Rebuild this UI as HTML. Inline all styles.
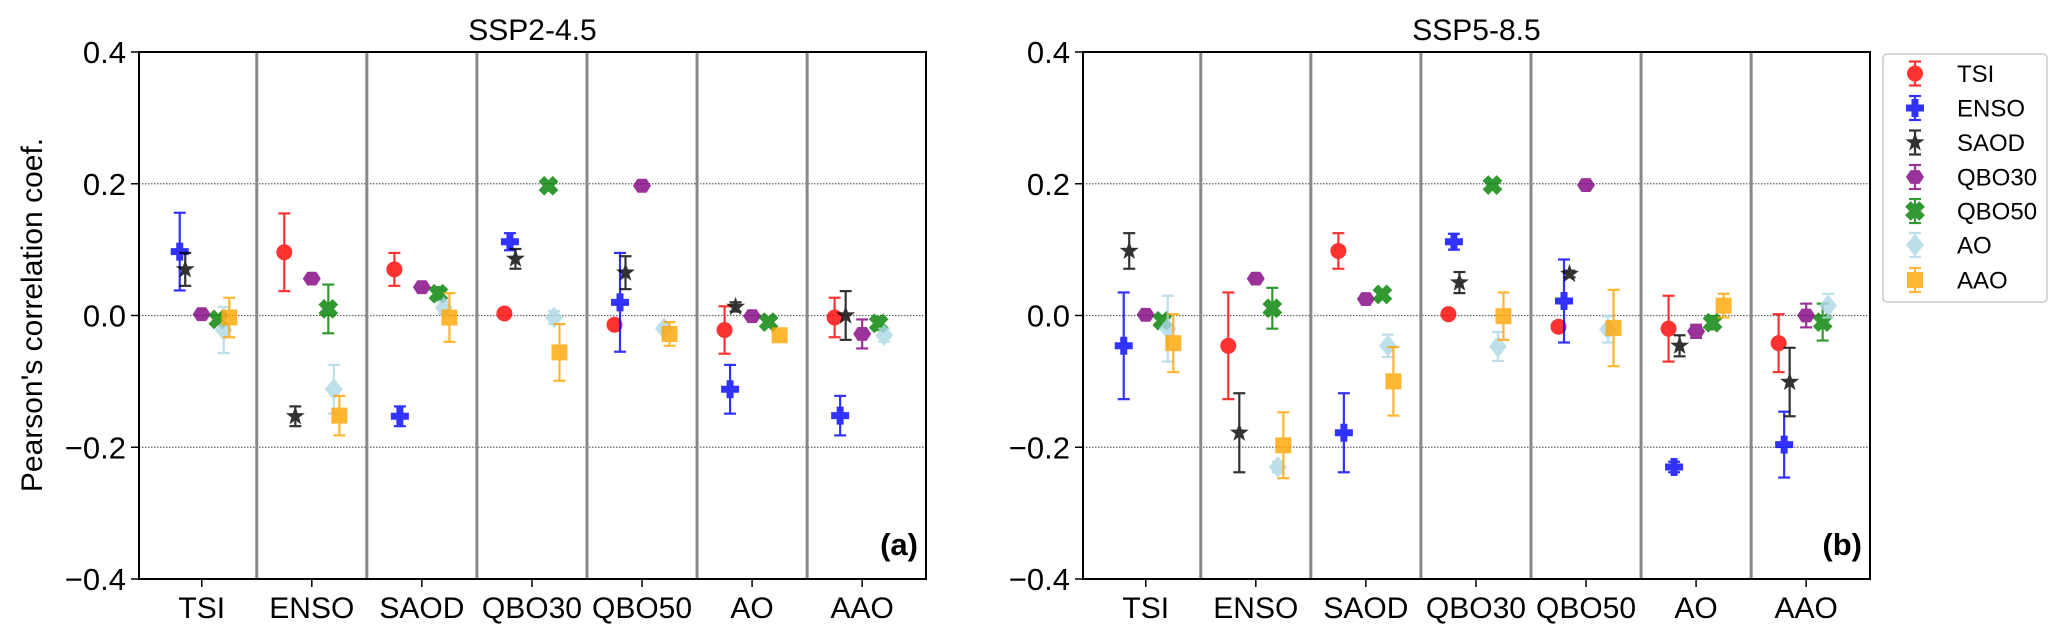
<!DOCTYPE html>
<html><head><meta charset="utf-8">
<style>
html,body{margin:0;padding:0;background:#fff;}
svg{display:block;font-family:"Liberation Sans","DejaVu Sans",sans-serif;}
</style></head>
<body>
<svg id="chart" width="2067" height="636" viewBox="0 0 2067 636" xmlns="http://www.w3.org/2000/svg"></svg>
<script>
const categories = ["TSI","ENSO","SAOD","QBO30","QBO50","AO","AAO"];
const seriesNames = ["TSI","ENSO","SAOD","QBO30","QBO50","AO","AAO"];
const panelTitles = ["SSP2-4.5","SSP5-8.5"];
const panelLabels = ["(a)","(b)"];
const yTicks = [0.4,0.2,0.0,-0.2,-0.4];
const yTickLabels = ["0.4","0.2","0.0","\u22120.2","\u22120.4"];
// values[series][group], null = self
const valuesA = [
 [null, 0.096, 0.070, 0.003, -0.014, -0.022, -0.003],
 [0.097, null, -0.153, 0.112, 0.020, -0.112, -0.152],
 [0.070, -0.153, null, 0.086, 0.065, 0.013, 0.000],
 [0.002, 0.056, 0.043, null, 0.197, -0.001, -0.028],
 [-0.006, 0.010, 0.033, 0.197, null, -0.010, -0.012],
 [-0.022, -0.112, 0.012, -0.003, -0.020, null, -0.030],
 [-0.003, -0.152, -0.003, -0.056, -0.028, -0.030, null]
];
const errsA = [
 [null, 0.059, 0.025, 0.003, 0.005, 0.036, 0.030],
 [0.059, null, 0.015, 0.013, 0.075, 0.037, 0.030],
 [0.025, 0.015, null, 0.015, 0.025, 0.007, 0.037],
 [0.003, 0.005, 0.005, null, 0.003, 0.003, 0.022],
 [0.005, 0.037, 0.010, 0.003, null, 0.005, 0.010],
 [0.035, 0.037, 0.010, 0.010, 0.005, null, 0.010],
 [0.030, 0.030, 0.037, 0.043, 0.018, 0.010, null]
];
const valuesB = [
 [null, -0.046, 0.098, 0.002, -0.017, -0.020, -0.042],
 [-0.046, null, -0.178, 0.112, 0.022, -0.230, -0.196],
 [0.098, -0.178, null, 0.050, 0.063, -0.046, -0.101],
 [0.001, 0.056, 0.025, null, 0.198, -0.024, 0.000],
 [-0.008, 0.011, 0.032, 0.198, null, -0.011, -0.010],
 [-0.020, -0.230, -0.046, -0.047, -0.021, null, 0.015],
 [-0.042, -0.197, -0.100, -0.001, -0.019, 0.015, null]
];
const errsB = [
 [null, 0.081, 0.027, 0.003, 0.005, 0.050, 0.044],
 [0.081, null, 0.060, 0.012, 0.063, 0.008, 0.050],
 [0.027, 0.060, null, 0.016, 0.005, 0.016, 0.052],
 [0.003, 0.005, 0.005, null, 0.003, 0.010, 0.018],
 [0.005, 0.031, 0.005, 0.003, null, 0.010, 0.028],
 [0.050, 0.008, 0.017, 0.022, 0.020, null, 0.018],
 [0.044, 0.050, 0.052, 0.036, 0.058, 0.018, null]
];
const colors = ["#ff0000","#0000ff","#000000","#800080","#008000","#add8e6","#ffa500"];
const offsets = [-0.25,-0.2,-0.15,0,0.15,0.2,0.25];
const markers = ["circle","plus","star","hex","x","diamond","square"];

const svg = document.getElementById('chart');
const NS = "http://www.w3.org/2000/svg";
function mk(tag, attrs, parent){
  const e = document.createElementNS(NS, tag);
  for (const k in attrs) e.setAttribute(k, attrs[k]);
  (parent||svg).appendChild(e);
  return e;
}
const TOP=52, BOT=579, XMIN=-0.57, XMAX=6.58;
function yScale(v){ return TOP + (0.4 - v)/0.8*(BOT-TOP); }

function marker(type, cx, cy, color, parent){
  let e;
  if(type==="circle") e=mk('circle',{cx:cx,cy:cy,r:8,fill:color},parent);
  else if(type==="square") e=mk('rect',{x:cx-8,y:cy-8,width:16,height:16,fill:color},parent);
  else if(type==="diamond") e=mk('polygon',{points:`${cx},${cy-11} ${cx+9},${cy} ${cx},${cy+11} ${cx-9},${cy}`,fill:color},parent);
  else if(type==="hex"){ let p=[]; for(let i=0;i<6;i++){const a=Math.PI/3*i; p.push((cx+9*Math.cos(a)).toFixed(1)+","+(cy+8*Math.sin(a)).toFixed(1));} e=mk('polygon',{points:p.join(' '),fill:color},parent);}
  else if(type==="plus") e=mk('path',{d:`M${cx-3.5},${cy-9}h7v5.5h5.5v7h-5.5v5.5h-7v-5.5h-5.5v-7h5.5z`,fill:color},parent);
  else if(type==="x") e=mk('path',{d:`M${cx-4},${cy-10}h8v6h6v8h-6v6h-8v-6h-6v-8h6z`,fill:color,transform:`rotate(45 ${cx} ${cy})`},parent);
  else { let p=[]; for(let i=0;i<10;i++){const a=-Math.PI/2+Math.PI/5*i; const r=i%2?4:10; p.push((cx+r*Math.cos(a)).toFixed(1)+","+(cy+r*Math.sin(a)).toFixed(1));} e=mk('polygon',{points:p.join(' '),fill:color},parent);}
  return e;
}

function panel(L, R, values, errs, pi){
  const xs = v => L + (v - XMIN)/(XMAX-XMIN)*(R-L);
  const g = mk('g',{});
  
  
  [0.2,0,-0.2].forEach(v=>{
    const l=mk('line',{x1:L,x2:R,y1:yScale(v),y2:yScale(v),stroke:'#666','stroke-width':1.2,'stroke-dasharray':'1.5,1.5'},g);
    
    
  });
  for(let i=0;i<categories.length-1;i++){
    const l=mk('line',{x1:xs(i+0.5),x2:xs(i+0.5),y1:TOP,y2:BOT,stroke:'#888','stroke-width':3},g);
    
    
  }
  for(let s=0;s<seriesNames.length;s++){
    for(let c=0;c<categories.length;c++){
      const v=values[s][c]; if(v===null) continue;
      const e=errs[s][c]||0;
      const cx=xs(c+offsets[s]);
      const grp=mk('g',{opacity:0.8},g);
      
      
      const y1=yScale(v+e), y2=yScale(v-e);
      mk('line',{x1:cx,x2:cx,y1:y1,y2:y2,stroke:colors[s],'stroke-width':2.2},grp);
      mk('line',{x1:cx-6,x2:cx+6,y1:y1,y2:y1,stroke:colors[s],'stroke-width':2.2},grp);
      mk('line',{x1:cx-6,x2:cx+6,y1:y2,y2:y2,stroke:colors[s],'stroke-width':2.2},grp);
      marker(markers[s],cx,yScale(v),colors[s],grp);
    }
  }
  const f=mk('rect',{x:L,y:TOP,width:R-L,height:BOT-TOP,fill:'none',stroke:'#000','stroke-width':2},g);
  
  
  yTicks.forEach((v,i)=>{
    mk('line',{x1:L-8,x2:L,y1:yScale(v),y2:yScale(v),stroke:'#000','stroke-width':1.5},g);
    const t=mk('text',{x:L-13,y:yScale(v)+11,'text-anchor':'end','font-size':31,fill:'#000'},g);
    t.textContent=yTickLabels[i];
    
    
  });
  categories.forEach((c,i)=>{
    mk('line',{x1:xs(i),x2:xs(i),y1:BOT,y2:BOT+8,stroke:'#000','stroke-width':1.5},g);
    const t=mk('text',{x:xs(i),y:618,'text-anchor':'middle','font-size':30,fill:'#000'},g);
    t.textContent=c;
    
    
  });
  const tt=mk('text',{x:(L+R)/2,y:40,'text-anchor':'middle','font-size':30,fill:'#000'},g);
  tt.textContent=panelTitles[pi];
  
  
  const pl=mk('text',{x:R-8,y:555,'text-anchor':'end','font-size':31,'font-weight':'bold',fill:'#000'},g);
  pl.textContent=panelLabels[pi];
  
  
}
panel(139, 926, valuesA, errsA, 0);
panel(1083, 1870, valuesB, errsB, 1);

const yl=mk('text',{x:0,y:0,'text-anchor':'middle','font-size':30,fill:'#000',transform:'translate(42,315) rotate(-90)'});
yl.textContent="Pearson's correlation coef.";



const lg=mk('g',{});


mk('rect',{x:1883,y:54,width:164,height:248,rx:4,fill:'#fff',stroke:'#ccc','stroke-width':1.5},lg);
const legY=[73.5,108,142.5,177,211,245,280];
seriesNames.forEach((n,s)=>{
  const eg=mk('g',{opacity:0.8},lg);
  
  
  const cx=1915, cy=legY[s];
  mk('line',{x1:cx,x2:cx,y1:cy-12,y2:cy+12,stroke:colors[s],'stroke-width':2.2},eg);
  mk('line',{x1:cx-6,x2:cx+6,y1:cy-12,y2:cy-12,stroke:colors[s],'stroke-width':2.2},eg);
  mk('line',{x1:cx-6,x2:cx+6,y1:cy+12,y2:cy+12,stroke:colors[s],'stroke-width':2.2},eg);
  marker(markers[s],cx,cy,colors[s],eg);
  const t=mk('text',{x:1957,y:cy+8.5,'font-size':24,fill:'#000'},lg);
  t.textContent=n;
  
  
});
</script>
</body></html>
